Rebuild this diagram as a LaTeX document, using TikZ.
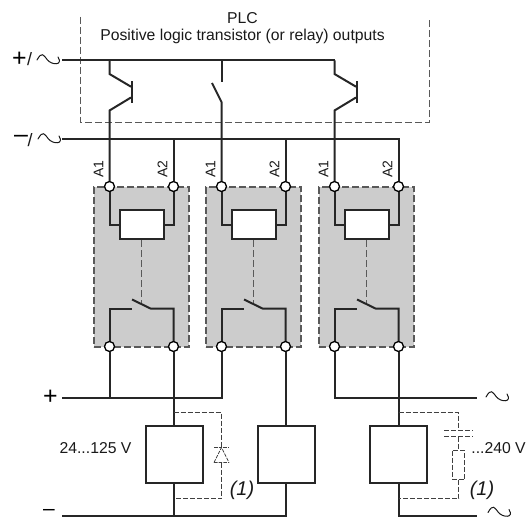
\documentclass[tikz,border=0pt]{standalone}
\usepackage{fontspec}
\setmainfont{Liberation Sans}
\tikzset{
  wire/.style={line width=2bp,black!85},
  dashwire/.style={line width=1.2bp,black!65,dash pattern=on 7bp off 3bp},
  thindash/.style={line width=1bp,black!75,dash pattern=on 5bp off 2bp},
  relaybox/.style={draw=black!65,fill=black!20,line width=1.2bp,dash pattern=on 7bp off 3bp,minimum width=95bp,minimum height=160bp,inner sep=0pt,rectangle},
  coilbox/.style={draw=black!85,fill=white,line width=2bp,minimum width=44bp,minimum height=29bp,inner sep=0pt,rectangle},
  loadbox/.style={draw=black!85,fill=white,line width=2bp,minimum width=57bp,minimum height=57bp,inner sep=0pt,rectangle},
  term/.style={circle,draw=black,fill=white,line width=1.3bp,minimum size=10bp,inner sep=0pt},
  lab/.style={font=\fontsize{15.8}{18}\selectfont,text=black!90,inner sep=0pt},
  plab/.style={font=\fontsize{15.8}{18}\selectfont,text=black!90,inner sep=0pt},
  pin/.style={font=\fontsize{14}{16}\selectfont,text=black!90,inner sep=0pt,rotate=90},
  sign/.style={font=\fontsize{25}{26}\selectfont,text=black,inner sep=0pt},
  one/.style={font=\fontsize{20}{22}\selectfont\itshape,text=black!90,inner sep=0pt},
}
\newcommand{\acwave}[3]{\draw[line width=1bp,black!90,line cap=round] (#1,#2) .. controls +(5,-9) and +(-4,-5) .. +(#3/2,0) .. controls +(4,5) and +(#3/2-5,9) .. +(#3,-3);}
\begin{document}
\begin{tikzpicture}[x=1bp,y=-1bp]
\useasboundingbox (0,0) rectangle (532,518);
% PLC
\node[plab] (plc) at (242.5,18) {PLC};
\node[plab] (plcsub) at (242.5,36) {Positive logic transistor (or relay) outputs};
\coordinate (plcA) at (80.5,17);
\coordinate (plcB) at (80.5,122.5);
\coordinate (plcC) at (429.5,122.5);
\coordinate (plcD) at (429.5,17);
\draw[dashwire] (plcA) -- (plcB) -- (plcC) -- (plcD);
% Relay boxes
\foreach \n/\xa/\xb/\xc in {1/109.5/173.5/141.5,2/221.5/285.5/253.5,3/334.5/398.5/366.5}{
  \node[relaybox] (relay\n) at (\xc,267) {};
  \coordinate (a1\n) at (\xa,186.5);
  \coordinate (a2\n) at (\xb,186.5);
  \coordinate (b1\n) at (\xa,346.5);
  \coordinate (b2\n) at (\xb,346.5);
  \node[coilbox] (coil\n) at (\xc,224.5) {};
  \draw[wire] (a1\n) |- (coil\n.west);
  \draw[wire] (a2\n) |- (coil\n.east);
  \coordinate (bladeA\n) at (\xa+22.5,299.5);
  \coordinate (bladeB\n) at (\xa+41,308.5);
  \coordinate (cl\n) at (\xa+22.5,308.5);
  \coordinate (dashend\n) at (\xc,303);
  \draw[dashwire] (coil\n.south) -- (dashend\n);
  \draw[wire] (b1\n) |- (cl\n);
  \draw[wire] (bladeA\n) -- (bladeB\n) -| (b2\n);
  \node[term] (ta1\n) at (a1\n) {};
  \node[term] (ta2\n) at (a2\n) {};
  \node[term] (tb1\n) at (b1\n) {};
  \node[term] (tb2\n) at (b2\n) {};
  \node[pin] (la1\n) at (\xa-11,169) {A1};
  \node[pin] (la2\n) at (\xb-11,169) {A2};
}
% Positive bus and outputs
\coordinate (pL) at (62,60.5);
\coordinate (p1) at (109.5,60.5);
\coordinate (p2) at (221.5,60.5);
\coordinate (p3) at (334.5,60.5);
\coordinate (nL) at (62,139.5);
\coordinate (n1) at (173.5,139.5);
\coordinate (n2) at (285.5,139.5);
\coordinate (n3) at (398.5,139.5);
\draw[wire] (pL) -- (p3);
\draw[wire] (nL) -- (n3) -- (ta23);
\draw[wire] (n1) -- (ta21);
\draw[wire] (n2) -- (ta22);
\foreach \n/\x in {1/109.5,3/334.5}{
  \coordinate (c\n) at (\x,74);
  \coordinate (bc\n) at (\x+21.5,86.7);
  \coordinate (be\n) at (\x+21.5,97.5);
  \coordinate (e\n) at (\x,110.5);
  \coordinate (bt\n) at (\x+22,81.3);
  \coordinate (bb\n) at (\x+22,102.7);
  \draw[wire] (p\n) -- (c\n) -- (bc\n);
  \draw[wire] (be\n) -- (e\n) -- (ta1\n);
  \draw[wire] (bt\n) -- (bb\n);
}
\coordinate (sw1) at (221.5,82);
\coordinate (sw2) at (212,83);
\coordinate (sw3) at (221.5,102);
\draw[wire] (p2) -- (sw1);
\draw[wire] (sw2) -- (sw3) -- (ta12);
% Load supply
\node[loadbox] (load1) at (174,454.5) {};
\node[loadbox] (load2) at (286,454.5) {};
\node[loadbox] (load3) at (398,454.5) {};
\coordinate (plus) at (62,397.5);
\coordinate (plus1) at (109.5,397.5);
\coordinate (plus2) at (221.5,397.5);
\coordinate (plus3) at (334.5,397.5);
\coordinate (plusR) at (477,397.5);
\draw[wire] (plus) -- (plus2) -- (tb12);
\draw[wire] (tb11) -- (plus1);
\draw[wire] (tb13) -- (plus3) -- (plusR);
\draw[wire] (tb21) -- (load1.north -| tb21);
\draw[wire] (tb22) -- (load2.north -| tb22);
\draw[wire] (tb23) -- (load3.north -| tb23);
\coordinate (minus) at (62,515.5);
\coordinate (minusR) at (477,515.5);
\coordinate (m2) at (285.5,515.5);
\coordinate (m3) at (398.5,515.5);
\draw[wire] (minus) -- (m2) -- (load2.south -| m2);
\draw[wire] (load1.south -| tb21) -- (tb21 |- minus);
\draw[wire] (load3.south -| m3) -- (m3) -- (minusR);
% Protection: diode
\coordinate (d0) at (173.5,412.5);
\coordinate (d1) at (221.5,412.5);
\coordinate (d2) at (221.5,447.5);
\coordinate (d3) at (221.5,462.5);
\coordinate (d4) at (221.5,498.5);
\coordinate (d5) at (173.5,498.5);
\draw[thindash] (d0) -- (d1) -- (d2);
\draw[thindash] (d3) -- (d4) -- (d5);
\draw[thindash,line width=0.8bp,dash pattern=on 3.5bp off 1.2bp] (214,447.5) -- (229,447.5);
\draw[thindash,line width=0.8bp,dash pattern=on 3.5bp off 1.2bp] (214,462.5) -- (229,462.5) (214,462.5) -- (d2) -- (229,462.5);
% Protection: RC
\coordinate (r0) at (398.5,412.5);
\coordinate (r1) at (458.5,412.5);
\coordinate (r2) at (458.5,430.5);
\coordinate (r3) at (458.5,436.5);
\coordinate (r4) at (458.5,450.5);
\coordinate (r5) at (458.5,479.5);
\coordinate (r6) at (458.5,498.5);
\coordinate (r7) at (398.5,498.5);
\draw[thindash] (r0) -- (r1) -- (r2);
\draw[thindash] (r3) -- (r4);
\draw[thindash] (r5) -- (r6) -- (r7);
\draw[thindash] (444,430.5) -- (473,430.5);
\draw[thindash] (444,436.5) -- (473,436.5);
\draw[thindash] (452.5,450.5) rectangle (464.5,479.5);
% Labels
\node[sign] (lp1) at (19.5,59) {+};
\node[lab,font=\fontsize{18}{20}\selectfont] (ls1) at (29.5,59.5) {/};
\acwave{37}{60}{21}
\node[sign] (lm1) at (21,139) {–};
\node[lab,font=\fontsize{18}{20}\selectfont] (ls2) at (30,140) {/};
\acwave{38}{139}{21}
\node[sign] (lp2) at (50.5,397) {+};
\acwave{486}{397}{21}
\node[sign,font=\fontsize{21}{22}\selectfont] (lm2) at (49,512) {–};
\acwave{488}{512.5}{21}
\node[lab] (v1) at (95.5,448) {24...125 V};
\node[lab] (v2) at (498.5,448) {...240 V};
\node[one] (n1a) at (242,490) {(1)};
\node[one] (n1b) at (482,490) {(1)};
\end{tikzpicture}
\end{document}
